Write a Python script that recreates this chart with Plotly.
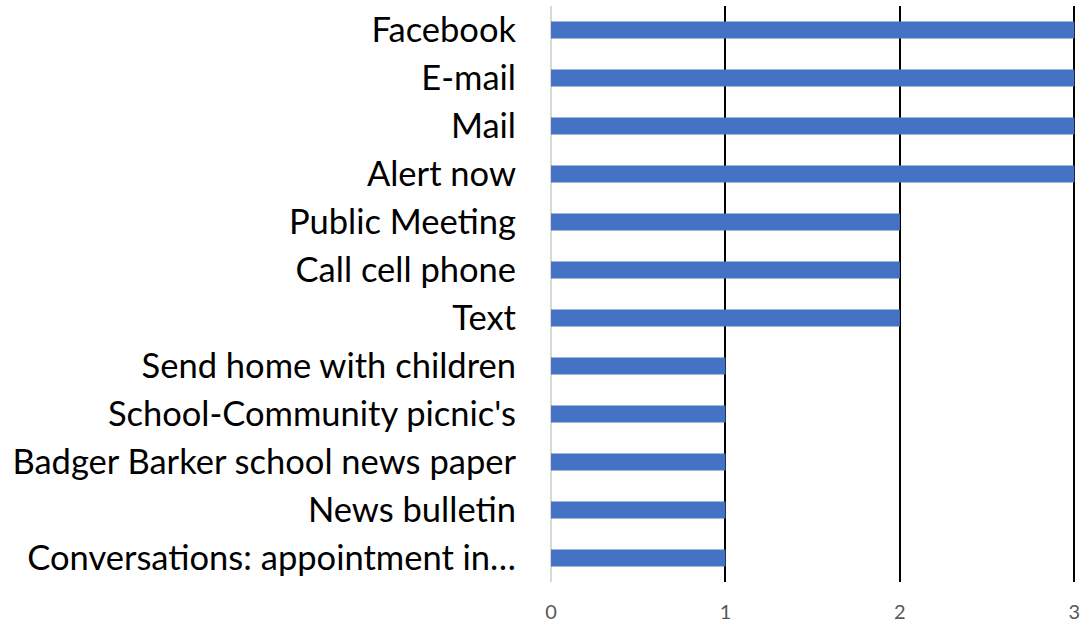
import plotly.graph_objects as go

categories = [
    "Conversations: appointment in…",
    "News bulletin",
    "Badger Barker school news paper",
    "School-Community picnic's",
    "Send home with children",
    "Text",
    "Call cell phone",
    "Public Meeting",
    "Alert now",
    "Mail",
    "E-mail",
    "Facebook",
]
values = [1, 1, 1, 1, 1, 2, 2, 2, 3, 3, 3, 3]
x_ticks = [0, 1, 2, 3]

fig = go.Figure(
    go.Bar(
        x=values,
        y=categories,
        orientation="h",
        marker=dict(color="#4472C4", line=dict(width=0)),
        width=0.35,
        cliponaxis=False,
    )
)

fig.update_layout(
    width=1082,
    height=624,
    margin=dict(l=551, r=5, t=6, b=42, autoexpand=False),
    paper_bgcolor="white",
    plot_bgcolor="white",
    showlegend=False,
    font=dict(family="Lato, Open Sans, sans-serif"),
)

fig.update_xaxes(
    range=[0, 3.015],
    tickvals=x_ticks,
    ticktext=[str(v) for v in x_ticks],
    showgrid=True,
    gridcolor="black",
    gridwidth=2,
    zeroline=True,
    zerolinecolor="#d9d9d9",
    zerolinewidth=2,
    showline=False,
    tickfont=dict(size=20, color="#595959"),
    ticks="",
    ticklabelstandoff=16,
    automargin=False,
    fixedrange=True,
)

fig.update_yaxes(
    categoryorder="array",
    categoryarray=categories,
    showgrid=False,
    zeroline=False,
    showline=False,
    ticks="",
    tickfont=dict(size=34.5, color="black"),
    ticklabelstandoff=34,
    automargin=False,
    fixedrange=True,
)

fig.write_html(
    "out.html",
    config={"displayModeBar": False},
    post_script="document.body.style.margin='0px';document.body.style.overflow='hidden';",
)
